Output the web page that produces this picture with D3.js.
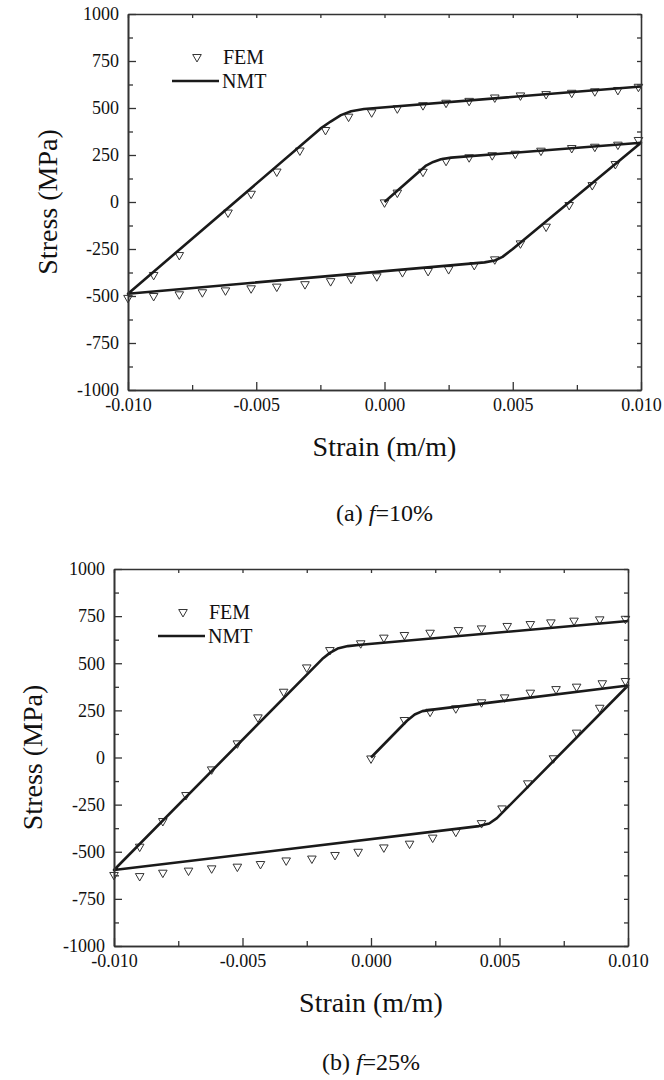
<!DOCTYPE html>
<html lang="en">
<head>
<meta charset="UTF-8">
<title>Stress-strain</title>
<script src="https://cdn.jsdelivr.net/npm/d3@7"></script>
<style>
  body { margin: 0; background: #fff; }
  svg text { font-family: 'Liberation Serif', Tinos, 'Times New Roman', Times, 'DejaVu Serif', serif; fill: #111; }
</style>
</head>
<body>
<script>
var strainTicks = [-0.010, -0.005, 0.000, 0.005, 0.010]
var strainMinor = [-0.0075, -0.0025, 0.0025, 0.0075]
var stressTicks = [-1000, -750, -500, -250, 0, 250, 500, 750, 1000]
var stressMinor = [-875, -625, -375, -125, 125, 375, 625, 875]

// (a) f=10%  NMT path: load -> unload -> reload
var nmt10 = [[0, 0], [0.0016, 192], [0.0019, 213], [0.0022, 227], [0.0026, 236], [0.0100, 315],
    [0.0050, -250], [0.0046, -292], [0.0043, -311], [0.0039, -321], [-0.0100, -488],
    [-0.0025, 390], [-0.0021, 428], [-0.0017, 462], [-0.0013, 483], [-0.0008, 495], [0.0100, 614]]
var fem10Load = [[0.0000, -2], [0.0005, 50], [0.0015, 161], [0.0024, 219], [0.0033, 238], [0.0042, 249],
    [0.0051, 257], [0.0061, 273], [0.0073, 287], [0.0082, 294], [0.0091, 305], [0.0099, 330]]
var fem10Unload = [[0.0053, -220], [0.0063, -131], [0.0072, -16], [0.0081, 90], [0.0090, 202]]
var fem10Lower = [[-0.0100, -510], [-0.0090, -500], [-0.0080, -491], [-0.0071, -480], [-0.0062, -470],
    [-0.0052, -459], [-0.0042, -450], [-0.0031, -437], [-0.0021, -421], [-0.0013, -408], [-0.0003, -395],
    [0.0007, -373], [0.0017, -367], [0.0025, -357], [0.0035, -335], [0.0043, -305]]
var fem10Upper = [[-0.0090, -388], [-0.0080, -282], [-0.0061, -56], [-0.0052, 44], [-0.0042, 162],
    [-0.0033, 274], [-0.0023, 383], [-0.0014, 454], [-0.0005, 477], [0.0005, 498], [0.0015, 515],
    [0.0024, 528], [0.0033, 538], [0.0043, 556], [0.0053, 567], [0.0063, 574], [0.0073, 581],
    [0.0082, 589], [0.0091, 596], [0.0099, 613]]

// (b) f=25%
var nmt25 = [[0, 0], [0.0014, 195], [0.0017, 228], [0.0020, 246], [0.0024, 254], [0.0100, 382],
    [0.0049, -322], [0.0046, -350], [0.0042, -364], [-0.0100, -597],
    [-0.0019, 522], [-0.0016, 555], [-0.0013, 578], [-0.0009, 591], [-0.0004, 598], [0.0100, 724]]
var fem25Load = [[0.0000, -5], [0.0013, 199], [0.0023, 243], [0.0033, 261], [0.0043, 293], [0.0052, 319],
    [0.0062, 344], [0.0072, 363], [0.0080, 376], [0.0090, 394], [0.0099, 406]]
var fem25Unload = [[0.0051, -270], [0.0061, -137], [0.0071, -4], [0.0080, 132], [0.0089, 264]]
var fem25Lower = [[-0.0100, -623], [-0.0090, -629], [-0.0081, -611], [-0.0071, -600], [-0.0062, -588],
    [-0.0052, -579], [-0.0043, -565], [-0.0033, -546], [-0.0023, -536], [-0.0014, -517], [-0.0005, -500],
    [0.0005, -477], [0.0015, -457], [0.0024, -425], [0.0033, -394], [0.0043, -348]]
var fem25Upper = [[-0.0090, -473], [-0.0081, -337], [-0.0072, -199], [-0.0062, -63], [-0.0052, 75],
    [-0.0044, 213], [-0.0034, 349], [-0.0025, 478], [-0.0016, 570], [-0.0004, 606], [0.0005, 636],
    [0.0013, 650], [0.0023, 662], [0.0034, 676], [0.0043, 685], [0.0053, 698], [0.0062, 708],
    [0.0070, 717], [0.0079, 726], [0.0089, 733], [0.0099, 736]]

var serif = "'Liberation Serif', Tinos, 'Times New Roman', Times, 'DejaVu Serif', serif"

var svg = d3.select('body').append('svg')
    .attr('width', 664)
    .attr('height', 1080)
    .attr('font-family', serif)

function panel(opt) {
    var x = d3.scaleLinear().domain([-0.01, 0.01]).range([opt.left, opt.left + opt.w])
    var y = d3.scaleLinear().domain([-1000, 1000]).range([opt.top + opt.h, opt.top])
    var g = svg.append('g')
    var fmtX = function (d) { return d.toFixed(3) }
    var fmtY = function (d) { return String(d) }

    // markers first, the line goes over them
    var tri = d3.symbol().type(d3.symbolTriangle).size(32)
    g.append('g').selectAll('path')
        .data(opt.fem)
        .enter()
        .append('path')
        .attr('d', tri)
        .attr('transform', function (d) { return 'translate(' + x(d[0]) + ',' + y(d[1]) + ') rotate(180)' })
        .attr('fill', 'none')
        .attr('stroke', '#333')
        .attr('stroke-width', 1)

    var line = d3.line().x(function (d) { return x(d[0]) }).y(function (d) { return y(d[1]) })
    g.append('path')
        .attr('d', line(opt.nmt))
        .attr('fill', 'none')
        .attr('stroke', '#1a1a1a')
        .attr('stroke-width', 2.6)
        .attr('stroke-linejoin', 'round')

    // axes
    var bottom = g.append('g').attr('transform', 'translate(0,' + (opt.top + opt.h) + ')')
    bottom.call(d3.axisBottom(x).tickValues(strainTicks).tickFormat(fmtX).tickSizeInner(-8).tickSizeOuter(0).tickPadding(8))
    bottom.append('g').call(d3.axisBottom(x).tickValues(strainMinor).tickFormat('').tickSizeInner(-5).tickSizeOuter(0))
    var left = g.append('g').attr('transform', 'translate(' + opt.left + ',0)')
    left.call(d3.axisLeft(y).tickValues(stressTicks).tickFormat(fmtY).tickSizeInner(-8).tickSizeOuter(0).tickPadding(9))
    left.append('g').call(d3.axisLeft(y).tickValues(stressMinor).tickFormat('').tickSizeInner(-5).tickSizeOuter(0))
    var top = g.append('g').attr('transform', 'translate(0,' + opt.top + ')')
    top.call(d3.axisTop(x).tickValues(strainTicks.concat(strainMinor)).tickFormat('').tickSizeInner(-4).tickSizeOuter(0))
    var right = g.append('g').attr('transform', 'translate(' + (opt.left + opt.w) + ',0)')
    right.call(d3.axisRight(y).tickValues(stressTicks.concat(stressMinor)).tickFormat('').tickSizeInner(-4).tickSizeOuter(0))

    g.selectAll('g').attr('font-family', serif)
    g.selectAll('.domain').attr('stroke', '#333').attr('stroke-width', 1.6)
    g.selectAll('.tick line').attr('stroke', '#333').attr('stroke-width', 1.3)
    g.selectAll('.tick text').attr('font-size', 18).attr('fill', '#111')

    // legend
    var lx = opt.left, ly = opt.top
    g.append('path')
        .attr('d', tri)
        .attr('transform', 'translate(' + (lx + 69) + ',' + (ly + 43) + ') rotate(180)')
        .attr('fill', 'none').attr('stroke', '#333').attr('stroke-width', 1)
    g.append('text').attr('x', lx + 95).attr('y', ly + 43).attr('dy', '0.35em')
        .attr('font-size', 20).text('FEM')
    g.append('line').attr('x1', lx + 44).attr('x2', lx + 91).attr('y1', ly + 67).attr('y2', ly + 67)
        .attr('stroke', '#1a1a1a').attr('stroke-width', 2.6)
    g.append('text').attr('x', lx + 94).attr('y', ly + 67).attr('dy', '0.35em')
        .attr('font-size', 20).text('NMT')

    // titles
    g.append('text')
        .attr('transform', 'translate(' + opt.yTitleX + ',' + (opt.top + opt.h / 2) + ') rotate(-90)')
        .attr('text-anchor', 'middle').attr('dy', '0.35em')
        .attr('font-size', 28).text('Stress (MPa)')
    g.append('text')
        .attr('x', opt.left + opt.w / 2).attr('y', opt.top + opt.h + 66)
        .attr('text-anchor', 'middle')
        .attr('font-size', 28).text('Strain (m/m)')
    var cap = g.append('text')
        .attr('x', opt.left + opt.w / 2).attr('y', opt.top + opt.h + opt.capGap)
        .attr('text-anchor', 'middle')
        .attr('font-size', 24)
    cap.append('tspan').text(opt.tag + ' ')
    cap.append('tspan').attr('font-style', 'italic').text('f')
    cap.append('tspan').text('=' + opt.pct)
}

panel({
    left: 128, top: 14, w: 513, h: 376, yTitleX: 47,
    nmt: nmt10, fem: fem10Load.concat(fem10Unload, fem10Lower, fem10Upper),
    tag: '(a)', pct: '10%', capGap: 131
})
panel({
    left: 114, top: 569, w: 514, h: 377, yTitleX: 32,
    nmt: nmt25, fem: fem25Load.concat(fem25Unload, fem25Lower, fem25Upper),
    tag: '(b)', pct: '25%', capGap: 124
})
</script>
</body>
</html>
